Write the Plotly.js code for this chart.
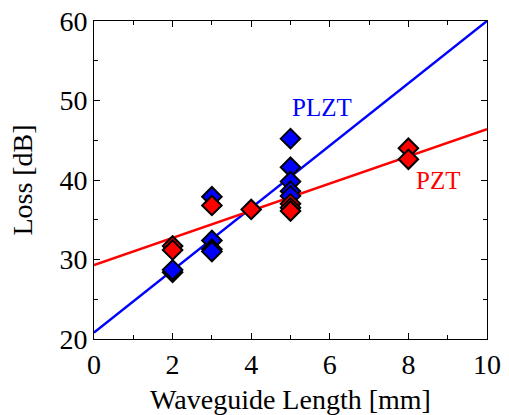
<!DOCTYPE html>
<html>
<head>
<meta charset="utf-8">
<script src="https://cdn.plot.ly/plotly-3.0.1.min.js"></script>
<style>html,body{margin:0;padding:0;background:#fff;}#plot{width:509px;height:415px;}</style>
</head>
<body>
<div id="plot"></div>
<script>
const plztLength = [2, 2, 3, 3, 3, 3, 5, 5, 5, 5, 5];
const plztLoss   = [28.4, 28.7, 37.9, 32.4, 31.3, 31.0, 45.2, 41.6, 39.8, 38.6, 38.0];
const pztLength  = [2, 2, 3, 4, 5, 5, 5, 8, 8];
const pztLoss    = [31.7, 31.2, 36.8, 36.3, 37.0, 36.5, 36.1, 44.0, 42.6];
const fitX       = [0, 10];
const plztFit    = [20.8, 60.0];
const pztFit     = [29.3, 46.4];
const xTicks     = [0, 2, 4, 6, 8, 10];
const yTicks     = [20, 30, 40, 50, 60];

const font = '"Liberation Serif", "Times New Roman", serif';
const markerStyle = (c) => ({symbol: 'diamond', size: 15, color: c, line: {color: 'black', width: 2}});

const data = [
  {x: fitX, y: plztFit, mode: 'lines', line: {color: '#0000ff', width: 2.5}, hoverinfo: 'skip'},
  {x: fitX, y: pztFit, mode: 'lines', line: {color: '#ff0000', width: 2.5}, hoverinfo: 'skip'},
  {x: plztLength, y: plztLoss, mode: 'markers', marker: markerStyle('#0000ff'), name: 'PLZT'},
  {x: pztLength, y: pztLoss, mode: 'markers', marker: markerStyle('#ff0000'), name: 'PZT'}
];

const axisCommon = {
  showgrid: false, zeroline: false, showline: true, linecolor: 'black', linewidth: 1,
  mirror: 'allticks', ticks: 'inside', ticklen: 6, tickwidth: 1, tickcolor: 'black',
  tickfont: {family: font, size: 28, color: 'black'}
};

const layout = {
  width: 509, height: 415,
  margin: {l: 94, r: 22, t: 21, b: 76},
  paper_bgcolor: 'white', plot_bgcolor: 'white',
  showlegend: false,
  xaxis: Object.assign({}, axisCommon, {
    range: [0, 10], tickvals: xTicks, ticktext: xTicks.map(String),
    minor: {dtick: 1, ticks: 'inside', ticklen: 4, tickcolor: 'black'},
    title: {text: 'Waveguide Length [mm]', font: {family: font, size: 28, color: 'black'}, standoff: 10}
  }),
  yaxis: Object.assign({}, axisCommon, {
    range: [20, 60], tickvals: yTicks, ticktext: yTicks.map(String),
    minor: {dtick: 5, ticks: 'inside', ticklen: 4, tickcolor: 'black'},
    title: {text: 'Loss [dB]', font: {family: font, size: 28, color: 'black'}, standoff: 18}
  }),
  annotations: [
    {x: 5.8, y: 49.1, text: 'PLZT', showarrow: false, font: {family: font, size: 25, color: '#0000ff'}},
    {x: 8.75, y: 39.9, text: 'PZT', showarrow: false, font: {family: font, size: 25, color: '#ff0000'}}
  ]
};

Plotly.newPlot('plot', data, layout, {displayModeBar: false, staticPlot: true});
</script>
</body>
</html>
